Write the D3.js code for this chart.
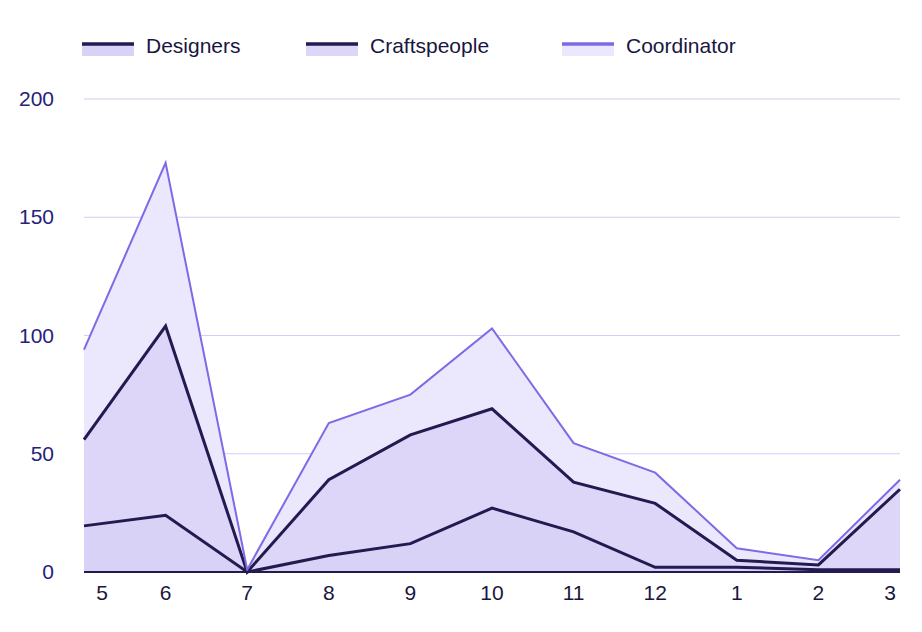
<!DOCTYPE html>
<html><head><meta charset="utf-8">
<script src="https://cdn.jsdelivr.net/npm/d3@7"></script>
<style>body{margin:0;background:#fff}svg{font-family:"Liberation Sans",Arial,sans-serif}</style>
</head><body><svg id="c" width="922" height="632"></svg>
<script>
const categories=["5","6","7","8","9","10","11","12","1","2","3"];
const designers=[19.5,24,0,7,12,27,17,2,2,1,1];
const craftspeople=[36.5,80,0,32,46,42,21,27,3,2,34];
const coordinator=[38,69,1,24,17,34,16.5,13,5,2,4];
const seriesNames=["Designers","Craftspeople","Coordinator"];
const yTicks=[0,50,100,150,200];

const svg=d3.select("#c");
const x=d3.scalePoint().domain(categories).range([84,900]);
const y=d3.scaleLinear().domain([0,200]).range([572,99]);
const rows=categories.map((c,i)=>({c,Designers:designers[i],Craftspeople:craftspeople[i],Coordinator:coordinator[i]}));
const stack=d3.stack().keys(seriesNames)(rows);
const lineCol=["#231a4f","#231a4f","#7d6ae6"];
const fillCol=["#d9d2f7","#ddd6f8","#ebe7fc"];

svg.append("g").selectAll("line").data(yTicks.slice(1)).join("line")
 .attr("x1",84).attr("x2",900).attr("y1",d=>y(d)).attr("y2",d=>y(d))
 .attr("stroke","#d2ccf8").attr("stroke-width",1.2);
svg.append("g").selectAll("text").data(yTicks).join("text")
 .attr("x",54).attr("y",d=>y(d)+7).attr("text-anchor","end")
 .attr("font-size",21).attr("fill","#25227a").text(d=>d);

const area=d3.area().x(d=>x(d.data.c)).y0(d=>y(d[0])).y1(d=>y(d[1]));
const line=d3.line().x(d=>x(d.data.c)).y(d=>y(d[1]));
svg.append("g").selectAll("path").data(stack).join("path")
 .attr("d",area).attr("fill",(d,i)=>fillCol[i]);
svg.append("g").selectAll("path").data(stack).join("path")
 .attr("d",line).attr("fill","none").attr("stroke",(d,i)=>lineCol[i]).attr("stroke-width",(d,i)=>i==2?2:3);

svg.append("line").attr("x1",84).attr("x2",900).attr("y1",572).attr("y2",572).attr("stroke","#231a4f").attr("stroke-width",2);
svg.append("g").selectAll("text").data(categories).join("text")
 .attr("x",(d,i)=>i==0?x(d)+18:(i==10?x(d)-10:x(d))).attr("y",600).attr("text-anchor","middle")
 .attr("font-size",21).attr("fill","#1a1640").text(d=>d);

const lx=[82,306,562];
seriesNames.forEach((n,i)=>{
 const g=svg.append("g");
 g.append("rect").attr("x",lx[i]).attr("y",44).attr("width",52).attr("height",12).attr("fill",fillCol[i]);
 g.append("line").attr("x1",lx[i]).attr("x2",lx[i]+52).attr("y1",44).attr("y2",44).attr("stroke",lineCol[i]).attr("stroke-width",3.5);
 g.append("text").attr("x",lx[i]+64).attr("y",53).attr("font-size",21).attr("fill","#1a1640").text(n);
});
</script></body></html>
